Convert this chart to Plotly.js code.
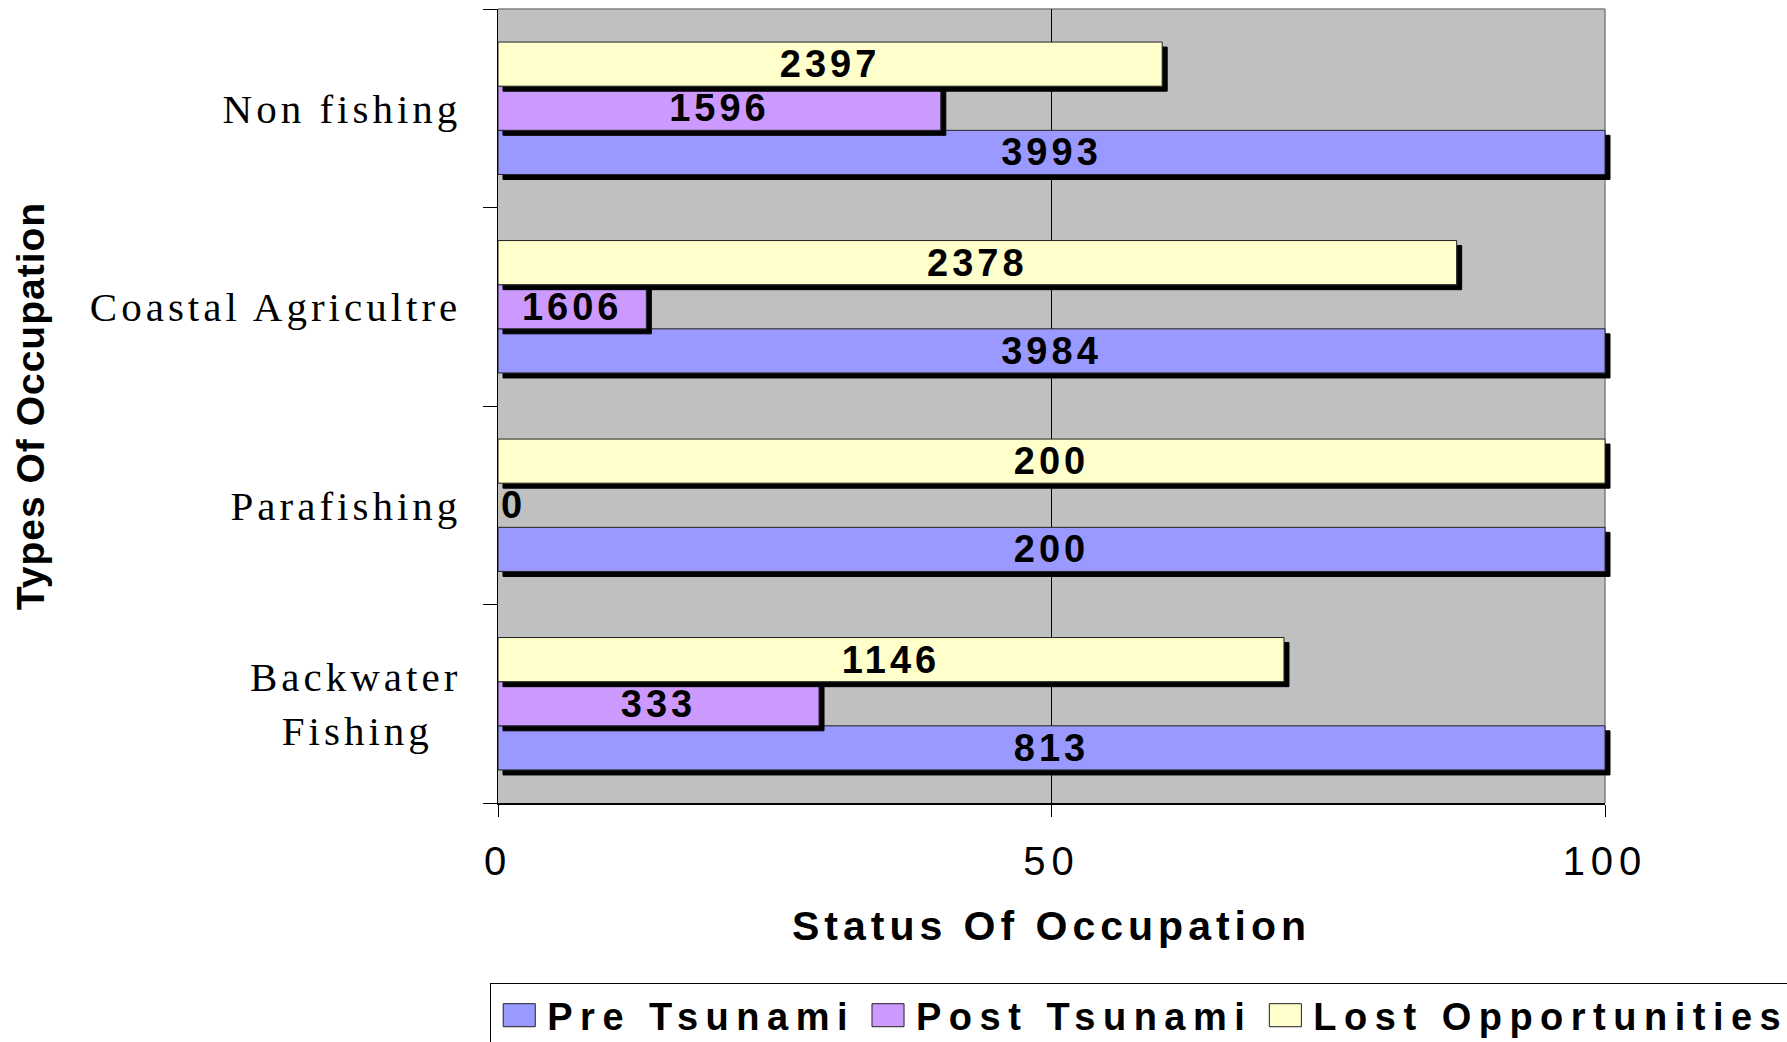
<!DOCTYPE html>
<html><head><meta charset="utf-8">
<script src="https://cdn.plot.ly/plotly-3.0.1.min.js"></script>
<style>
html,body{margin:0;padding:0;background:#fff;}
#chart{width:1787px;height:1042px;}
.ytick text{letter-spacing:4px;}
.xtick text{letter-spacing:6px;}
.bartext{letter-spacing:4px;}
.legendtext{letter-spacing:7.5px;}
.xtitle{letter-spacing:5px;}
.ytitle{letter-spacing:1px;}
.barlayer .point path{filter:url(#barshadow);clip-path:none !important;}
.legendpoints path{transform:translate(28px,0px) scale(2.67,1.92) !important;vector-effect:non-scaling-stroke;}
</style></head>
<body>
<svg width="0" height="0" style="position:absolute"><defs>
<filter id="barshadow" x="-10%" y="-30%" width="130%" height="180%">
<feDropShadow dx="5" dy="5" stdDeviation="0" flood-color="#000" flood-opacity="1"/>
</filter></defs></svg>
<div id="chart"></div>
<script>
// ---- data (bottom to top) ----
const categories = ['Backwater Fishing', 'Parafishing', 'Coastal Agricultre', 'Non fishing'];
const tickLabels = ['Backwater<br>Fishing\u00a0\u00a0', 'Parafishing', 'Coastal Agricultre', 'Non fishing'];
const seriesNames = ['Pre Tsunami', 'Post Tsunami', 'Lost Opportunities'];
const preTsunamiPct = [100, 100, 100, 100];
const postTsunamiPct = [29, 0, 13.4, 40];
const lostOpportunitiesPct = [71, 100, 86.6, 60];
const preTsunamiCount = [813, 200, 3984, 3993];
const postTsunamiCount = [333, 0, 1606, 1596];
const lostOpportunitiesCount = [1146, 200, 2378, 2397];
const xTickVals = [0, 50, 100];
const xTickLabels = ['0', '50', '100'];

const colors = ['#9999FF', '#CC99FF', '#FFFFCC'];
const SANS = 'Liberation Sans, Arial, sans-serif';
const SERIF = 'Liberation Serif, Times New Roman, serif';
const labelFont = {family: SANS, size: 38, weight: 'bold', color: '#000'};

function barTrace(name, pct, counts, color) {
  return {
    type: 'bar', orientation: 'h', name: name,
    y: categories, x: pct,
    text: counts.map(String),
    textposition: pct.map(v => v > 0 ? 'inside' : 'outside'),
    insidetextanchor: 'middle',
    constraintext: 'none',
    cliponaxis: false,
    textfont: labelFont,
    outsidetextfont: labelFont,
    insidetextfont: labelFont,
    marker: {color: color, line: {color: '#222', width: 1}},
    hoverinfo: 'skip'
  };
}

const data = [
  barTrace(seriesNames[0], preTsunamiPct, preTsunamiCount, colors[0]),
  barTrace(seriesNames[1], postTsunamiPct, postTsunamiCount, colors[1]),
  barTrace(seriesNames[2], lostOpportunitiesPct, lostOpportunitiesCount, colors[2])
];

const layout = {
  width: 1787, height: 1042,
  margin: {l: 498, r: 182, t: 9, b: 239, autoexpand: false},
  paper_bgcolor: '#fff', plot_bgcolor: '#C0C0C0',
  font: {family: SANS, color: '#000'},
  barmode: 'group', bargap: 0.333, bargroupgap: 0,
  showlegend: true,
  legend: {
    orientation: 'h', x: -0.007, xanchor: 'left', y: -0.2267, yanchor: 'top',
    bgcolor: '#fff', bordercolor: '#000', borderwidth: 1,
    itemwidth: 46,
    font: {family: SANS, size: 38, weight: 'bold', color: '#000'},
    traceorder: 'normal'
  },
  xaxis: {
    range: [0, 100], tickmode: 'array', tickvals: xTickVals, ticktext: xTickLabels,
    ticks: 'outside', ticklen: 12, tickwidth: 1, tickcolor: '#000',
    showline: true, linecolor: '#000', linewidth: 2,
    showgrid: true, gridcolor: '#000', gridwidth: 1, zeroline: false,
    tickfont: {family: SANS, size: 40, color: '#000'},
    ticklabelstandoff: 10,
    title: {text: 'Status Of Occupation', font: {family: SANS, size: 41, weight: 'bold', color: '#000'}, standoff: 29},
    automargin: false, fixedrange: true
  },
  yaxis: {
    type: 'category', categoryorder: 'array', categoryarray: categories,
    tickmode: 'array', tickvals: categories, ticktext: tickLabels,
    tickson: 'boundaries', ticks: 'outside', ticklen: 14, tickwidth: 1, tickcolor: '#000',
    showline: true, linecolor: '#000', linewidth: 1.5,
    showgrid: false, zeroline: false,
    tickfont: {family: SERIF, size: 41, color: '#000'},
    ticklabelstandoff: 27,
    title: {text: 'Types Of Occupation', font: {family: SANS, size: 39, weight: 'bold', color: '#000'}, standoff: 33},
    automargin: false, fixedrange: true
  },
  shapes: [
    {type: 'line', xref: 'paper', yref: 'paper', x0: 0, x1: 1, y0: 1, y1: 1, line: {color: '#808080', width: 1.5}, layer: 'below'},
    {type: 'line', xref: 'paper', yref: 'paper', x0: 1, x1: 1, y0: 0, y1: 1, line: {color: '#808080', width: 1.5}, layer: 'below'}
  ]
};

Plotly.newPlot('chart', data, layout, {staticPlot: true, displayModeBar: false});
</script>
</body></html>
